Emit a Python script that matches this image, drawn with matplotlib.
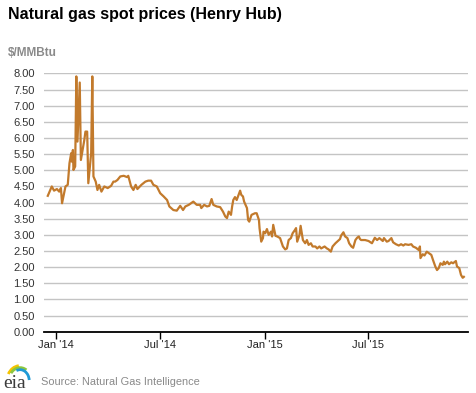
import matplotlib
matplotlib.use('Agg')
import matplotlib.pyplot as plt
from matplotlib.patches import Arc
import pandas as pd

# Henry Hub spot price, $/MMBtu
dates = [
    '2013-12-17', '2013-12-24', '2013-12-28', '2014-01-02', '2014-01-06', '2014-01-09',
    '2014-01-11', '2014-01-14', '2014-01-17', '2014-01-21', '2014-01-24', '2014-01-27',
    '2014-01-28', '2014-01-30', '2014-01-31', '2014-02-03', '2014-02-05', '2014-02-07',
    '2014-02-11', '2014-02-13', '2014-02-17', '2014-02-19', '2014-02-21', '2014-02-24',
    '2014-02-26', '2014-03-03', '2014-03-05', '2014-03-07', '2014-03-11', '2014-03-14',
    '2014-03-17', '2014-03-21', '2014-03-26', '2014-04-01', '2014-04-07', '2014-04-11',
    '2014-04-14', '2014-04-18', '2014-04-23', '2014-04-29', '2014-05-05', '2014-05-07',
    '2014-05-12', '2014-05-16', '2014-05-20', '2014-05-23', '2014-05-30', '2014-06-06',
    '2014-06-11', '2014-06-16', '2014-06-20', '2014-06-26', '2014-07-02', '2014-07-08',
    '2014-07-14', '2014-07-18', '2014-07-25', '2014-07-31', '2014-08-06', '2014-08-11',
    '2014-08-15', '2014-08-21', '2014-08-29', '2014-09-04', '2014-09-10', '2014-09-12',
    '2014-09-17', '2014-09-22', '2014-09-26', '2014-09-30', '2014-10-03', '2014-10-09',
    '2014-10-15', '2014-10-20', '2014-10-24', '2014-10-27', '2014-10-30', '2014-11-03',
    '2014-11-05', '2014-11-07', '2014-11-10', '2014-11-13', '2014-11-17', '2014-11-19',
    '2014-11-21', '2014-11-24', '2014-11-26', '2014-12-01', '2014-12-03', '2014-12-05',
    '2014-12-09', '2014-12-15', '2014-12-18', '2014-12-22', '2014-12-23', '2014-12-26',
    '2014-12-29', '2014-12-30', '2015-01-02', '2015-01-05', '2015-01-08', '2015-01-12',
    '2015-01-14', '2015-01-16', '2015-01-20', '2015-01-23', '2015-01-28', '2015-02-02',
    '2015-02-06', '2015-02-09', '2015-02-12', '2015-02-16', '2015-02-19', '2015-02-23',
    '2015-02-25', '2015-02-27', '2015-03-03', '2015-03-05', '2015-03-09', '2015-03-11',
    '2015-03-13', '2015-03-16', '2015-03-19', '2015-03-23', '2015-03-26', '2015-03-31',
    '2015-04-03', '2015-04-07', '2015-04-10', '2015-04-16', '2015-04-20', '2015-04-23',
    '2015-04-27', '2015-04-30', '2015-05-05', '2015-05-08', '2015-05-13', '2015-05-15',
    '2015-05-19', '2015-05-22', '2015-05-26', '2015-05-29', '2015-06-02', '2015-06-05',
    '2015-06-09', '2015-06-12', '2015-06-15', '2015-06-17', '2015-06-19', '2015-06-26',
    '2015-07-02', '2015-07-08', '2015-07-13', '2015-07-17', '2015-07-21', '2015-07-27',
    '2015-07-29', '2015-08-03', '2015-08-06', '2015-08-11', '2015-08-14', '2015-08-19',
    '2015-08-24', '2015-08-28', '2015-09-01', '2015-09-04', '2015-09-10', '2015-09-15',
    '2015-09-18', '2015-09-23', '2015-09-28', '2015-09-30', '2015-10-01', '2015-10-05',
    '2015-10-08', '2015-10-12', '2015-10-16', '2015-10-20', '2015-10-23', '2015-10-27',
    '2015-10-30', '2015-11-02', '2015-11-05', '2015-11-09', '2015-11-11', '2015-11-13',
    '2015-11-17', '2015-11-20', '2015-11-24', '2015-11-27', '2015-12-02', '2015-12-04',
    '2015-12-08', '2015-12-11', '2015-12-14', '2015-12-16',
]
prices = [
    4.21, 4.50, 4.37, 4.42, 4.34, 4.45,
    3.98, 4.24, 4.50, 4.55, 5.22, 5.53,
    5.27, 5.63, 5.01, 5.12, 7.91, 5.89,
    7.72, 5.32, 5.74, 5.94, 6.20, 6.20,
    4.60, 5.53, 7.91, 4.81, 4.65, 4.39,
    4.55, 4.34, 4.50, 4.45, 4.52, 4.65,
    4.65, 4.70, 4.81, 4.83, 4.79, 4.83,
    4.50, 4.39, 4.55, 4.42, 4.55, 4.65,
    4.68, 4.68, 4.55, 4.50, 4.29, 4.19,
    4.08, 3.88, 3.77, 3.75, 3.90, 3.77,
    3.88, 3.93, 4.03, 3.93, 3.93, 3.83,
    3.93, 3.88, 3.90, 4.11, 3.93, 3.88,
    3.86, 3.72, 3.57, 3.52, 3.72, 3.62,
    3.88, 4.08, 4.17, 4.08, 4.27, 4.37,
    4.24, 4.19, 4.03, 3.83, 3.46, 3.41,
    3.62, 3.67, 3.67, 3.46, 3.21, 2.79,
    2.90, 3.10, 3.05, 3.18, 3.00, 3.10,
    2.95, 3.31, 2.97, 2.95, 2.90, 2.64,
    2.55, 2.58, 2.84, 2.90, 3.05, 3.15,
    3.21, 2.79, 3.00, 3.28, 2.84, 2.79,
    2.74, 2.84, 2.69, 2.74, 2.64, 2.64,
    2.58, 2.64, 2.58, 2.64, 2.58, 2.55,
    2.48, 2.64, 2.74, 2.79, 2.87, 2.98,
    3.08, 2.95, 2.90, 2.74, 2.64, 2.60,
    2.84, 2.91, 2.95, 2.87, 2.84, 2.84,
    2.81, 2.74, 2.91, 2.84, 2.90, 2.81,
    2.90, 2.79, 2.81, 2.90, 2.77, 2.71,
    2.67, 2.71, 2.67, 2.71, 2.69, 2.71,
    2.64, 2.60, 2.53, 2.64, 2.28, 2.40,
    2.36, 2.48, 2.43, 2.38, 2.22, 2.02,
    1.91, 1.97, 2.12, 2.07, 2.17, 2.09,
    2.17, 2.09, 2.15, 2.12, 2.19, 2.02,
    1.97, 1.76, 1.67, 1.70,
]

tick_dates = ['2014-01-01', '2014-07-01', '2015-01-01', '2015-07-01']
tick_labels = ["Jan '14", "Jul '14", "Jan '15", "Jul '15"]
y_ticks = [0, 0.5, 1, 1.5, 2, 2.5, 3, 3.5, 4, 4.5, 5, 5.5, 6, 6.5, 7, 7.5, 8]

plt.rcParams['font.family'] = ['Liberation Sans', 'DejaVu Sans']

fig = plt.figure(figsize=(4.77, 3.93), dpi=100)
ax = fig.add_axes([0.093, 0.156, 0.889, 0.657])

ax.plot(pd.to_datetime(dates), prices, color='#c27a2c', lw=1.6, solid_joinstyle='round')

ax.set_ylim(0, 8)
ax.set_yticks(y_ticks)
ax.set_yticklabels(['%.2f' % v for v in y_ticks])
ax.set_xlim(pd.Timestamp('2013-12-11'), pd.Timestamp('2015-12-24'))
ax.set_xticks(pd.to_datetime(tick_dates))
ax.set_xticklabels(tick_labels)

ax.grid(axis='y', color='#c4c4c4', lw=1)
ax.set_axisbelow(True)
for s in ['left', 'right', 'top']:
    ax.spines[s].set_visible(False)
ax.spines['bottom'].set_color('black')
ax.spines['bottom'].set_linewidth(1.3)
ax.tick_params(axis='y', length=0, pad=7, labelsize=8, labelcolor='#333333')
ax.tick_params(axis='x', length=5, width=1, direction='out', pad=1,
               labelsize=8, labelcolor='#222222')

fig.text(0.017, 0.962, 'Natural gas spot prices (Henry Hub)', fontsize=11.5,
         fontweight='bold', color='black', va='center')
fig.text(0.017, 0.865, '$/MMBtu', fontsize=8.5, fontweight='bold', color='#8a8a8a',
         va='center')
fig.text(0.086, 0.029, 'Source: Natural Gas Intelligence', fontsize=7.9,
         color='#8a8a8a', va='center')

# eia logo
lax = fig.add_axes([0.004, 0.0, 0.07, 0.08])
lax.set_xlim(0, 33)
lax.set_ylim(0, 31)
lax.axis('off')
lax.text(1.5, 0.5, 'eia', family='Liberation Serif', fontsize=14, color='#3b3b3b',
         va='bottom')
lax.add_patch(Arc((18, 12), 26, 30, theta1=95, theta2=150, color='#f5c400', lw=2))
lax.add_patch(Arc((18, 12), 22, 26, theta1=60, theta2=140, color='#8cc63f', lw=2))
lax.add_patch(Arc((18, 12), 18, 22, theta1=5, theta2=110, color='#1f9ad6', lw=2))

fig.savefig('out.png', dpi=100)
